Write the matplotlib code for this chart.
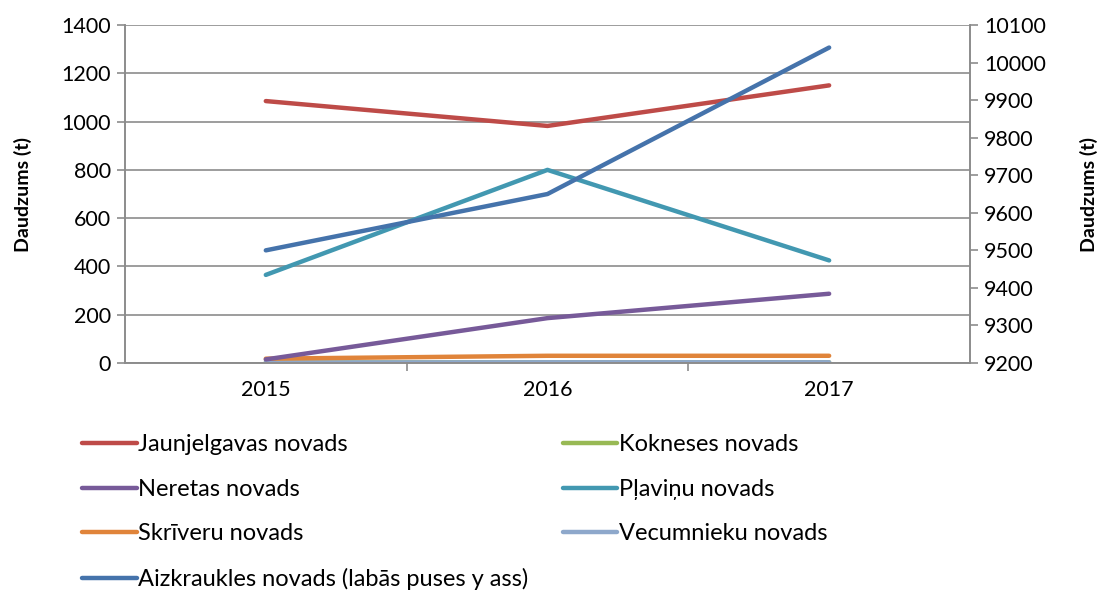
import matplotlib.pyplot as plt
from matplotlib.lines import Line2D

plt.rcParams["font.family"] = ["Lato", "DejaVu Sans"]

years = ["2015", "2016", "2017"]

# left axis series (t)
jaunjelgavas = [1085, 982, 1150]
kokneses = [2, 3, 3]
neretas = [15, 186, 287]
plavinu = [365, 800, 425]
skriveru = [18, 30, 30]
vecumnieku = [2, 3, 3]
# right axis series (t)
aizkraukles = [9500, 9650, 10040]

left_names = ["Jaunjelgavas novads", "Kokneses novads", "Neretas novads",
              "Pļaviņu novads", "Skrīveru novads", "Vecumnieku novads"]
right_name = "Aizkraukles novads (labās puses y ass)"
left_colors = ["#BE4B48", "#98B954", "#775A99", "#4298B1", "#E0843A", "#8EA8CB"]
right_color = "#4573AB"

fig = plt.figure(figsize=(11.03, 5.9), dpi=100)
ax = fig.add_axes([0.1133, 0.3847, 0.7661, 0.5729])
ax2 = ax.twinx()

x = range(len(years))
grid_c = "#8C8C8C"

series = [jaunjelgavas, kokneses, neretas, plavinu, skriveru, vecumnieku]
draw_order = [1, 5, 4, 2, 3, 0]
for i in draw_order:
    ax.plot(x, series[i], color=left_colors[i], lw=3.2, solid_capstyle="round")
ax2.plot(x, aizkraukles, color=right_color, lw=3.2, solid_capstyle="round")

ax.set_xlim(-0.5, 2.5)
ax.set_ylim(0, 1400)
ax.set_yticks(range(0, 1401, 200))
ax2.set_ylim(9200, 10100)
ax2.set_yticks(range(9200, 10101, 100))

ax.set_xticks(list(x))
ax.set_xticklabels(years)
ax.set_xticks([0.5, 1.5], minor=True)
ax.tick_params(axis="x", which="major", length=0, pad=12, labelsize=15.5)
ax.tick_params(axis="x", which="minor", length=6, color=grid_c, width=1.2)
ax.tick_params(axis="y", length=6, color=grid_c, width=1.2, labelsize=15.5, pad=4)
ax2.tick_params(axis="y", length=6, color=grid_c, width=1.2, labelsize=15.5, pad=4)

ax.yaxis.grid(True, color=grid_c, lw=1.2)
ax.set_axisbelow(True)
for a in (ax, ax2):
    a.spines["top"].set_visible(False)
    for s in ("left", "right", "bottom"):
        a.spines[s].set_color(grid_c)
        a.spines[s].set_linewidth(1.2)

ax.set_ylabel("Daudzums (t)", fontsize=14, fontweight="bold")
ax2.set_ylabel("Daudzums (t)", fontsize=14, fontweight="bold", rotation=90)
ax.yaxis.set_label_coords(-0.11, 0.5)
ax2.yaxis.set_label_coords(1.13, 0.5)

# legend laid out row by row, two columns
def handle(c):
    return Line2D([], [], color=c, lw=3.2, solid_capstyle="round")

col1 = [0, 2, 4]
col2 = [1, 3, 5]
leg_kw = dict(loc="upper left", frameon=False, fontsize=17, handlelength=2.3,
              handletextpad=0.08, labelspacing=1.0, borderaxespad=0)
fig.legend([handle(left_colors[i]) for i in col1] + [handle(right_color)],
           [left_names[i] for i in col1] + [right_name],
           bbox_to_anchor=(0.066, 0.28), **leg_kw)
fig.legend([handle(left_colors[i]) for i in col2], [left_names[i] for i in col2],
           bbox_to_anchor=(0.502, 0.28), **leg_kw)

fig.savefig("out.png", dpi=100)
